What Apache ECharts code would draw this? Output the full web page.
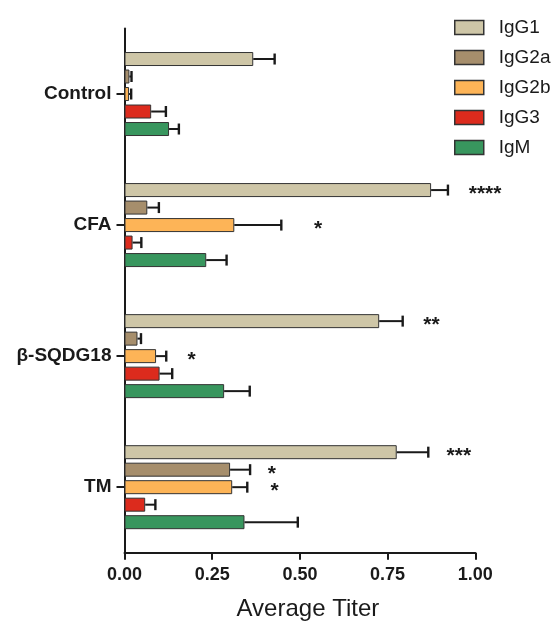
<!DOCTYPE html>
<html><head><meta charset="utf-8">
<script src="https://cdn.jsdelivr.net/npm/echarts@6/dist/echarts.min.js"></script>
<style>html,body{margin:0;padding:0;background:#fff}#c{width:554px;height:627px}</style>
</head><body><div id="c"></div>
<script>
const categories = ['Control', 'CFA', 'β-SQDG18', 'TM'];
const seriesNames = ['IgG1', 'IgG2a', 'IgG2b', 'IgG3', 'IgM'];
const IgG1 = [0.367, 0.874, 0.726, 0.776];
const IgG1Err = [0.061, 0.048, 0.067, 0.090];
const IgG2a = [0.014, 0.065, 0.037, 0.301];
const IgG2aErr = [0.006, 0.033, 0.010, 0.057];
const IgG2b = [0.013, 0.313, 0.090, 0.307];
const IgG2bErr = [0.006, 0.134, 0.029, 0.043];
const IgG3 = [0.076, 0.023, 0.100, 0.059];
const IgG3Err = [0.042, 0.025, 0.036, 0.029];
const IgM = [0.127, 0.233, 0.284, 0.342];
const IgMErr = [0.028, 0.058, 0.073, 0.152];
const xTicks = [0, 0.25, 0.5, 0.75, 1.0];
// significance marks: category index, series index, x position, text
const sigCat = [1, 1, 2, 2, 3, 3, 3];
const sigSeries = [0, 2, 0, 2, 0, 1, 2];
const sigX = [1.028, 0.552, 0.875, 0.191, 0.953, 0.420, 0.428];
const sigText = ['****', '*', '**', '*', '***', '*', '*'];

const values = [IgG1, IgG2a, IgG2b, IgG3, IgM];
const errs = [IgG1Err, IgG2aErr, IgG2bErr, IgG3Err, IgMErr];
const colors = ['#CEC6A7', '#A68E6C', '#FDB457', '#DC2B1D', '#38965E'];
const BAR_W = 14, PITCH = 17.5;

const series = [];
seriesNames.forEach((n, s) => {
  series.push({
    name: n, type: 'bar', data: values[s],
    barWidth: BAR_W, barGap: '25%',
    itemStyle: { color: colors[s], borderColor: '#333', borderWidth: 1 },
    z: 2
  });
});
seriesNames.forEach((n, s) => {
  series.push({
    type: 'custom', silent: true, z: 3,
    data: values[s].map((v, i) => [v, i, v + errs[s][i]]),
    encode: { x: [0, 2], y: 1 },
    renderItem: function (params, api) {
      const p0 = api.coord([api.value(0), api.value(1)]);
      const p1 = api.coord([api.value(2), api.value(1)]);
      const y = p0[1] + (s - 2) * PITCH;
      const h = 5.5;
      return {
        type: 'group', children: [
          { type: 'line', shape: { x1: p0[0], y1: y, x2: p1[0], y2: y }, style: { stroke: '#1a1a1a', lineWidth: 2 } },
          { type: 'line', shape: { x1: p1[0], y1: y - h, x2: p1[0], y2: y + h }, style: { stroke: '#1a1a1a', lineWidth: 2.4 } }
        ]
      };
    }
  });
});
series.push({
  type: 'custom', silent: true, z: 4,
  data: sigX.map((x, k) => [x, sigCat[k], sigSeries[k]]),
  encode: { x: 0, y: 1 },
  renderItem: function (params, api) {
    const p = api.coord([api.value(0), api.value(1)]);
    const y = p[1] + (api.value(2) - 2) * PITCH + 4.5;
    return {
      type: 'text',
      style: { x: p[0], y: y, text: sigText[params.dataIndex], fill: '#1a1a1a',
        font: 'bold 21px "Liberation Sans", Arial, sans-serif', align: 'center', verticalAlign: 'middle' }
    };
  }
});

const chart = echarts.init(document.getElementById('c'), null, { renderer: 'canvas' });
chart.setOption({
  animation: false,
  backgroundColor: '#fff',
  textStyle: { fontFamily: '"Liberation Sans", Arial, sans-serif' },
  legend: {
    data: seriesNames, orient: 'vertical', left: 449, top: 13,
    itemWidth: 29, itemHeight: 14, itemGap: 11, icon: 'rect',
    itemStyle: { borderColor: '#333', borderWidth: 1.5 },
    textStyle: { fontSize: 19, color: '#1a1a1a', padding: [0, 0, 0, 10] }
  },
  grid: { left: 124.5, right: 78.7, top: 28.5, height: 524.2, containLabel: false },
  xAxis: {
    type: 'value', min: 0, max: 1, interval: 0.25,
    name: 'Average Titer', nameLocation: 'middle', nameGap: 45,
    nameTextStyle: { fontSize: 24, color: '#1a1a1a', padding: [0, 0, 0, 16] },
    axisLine: { show: true, lineStyle: { color: '#1a1a1a', width: 2 } },
    axisTick: { show: true, length: 7, lineStyle: { color: '#1a1a1a', width: 2 } },
    axisLabel: { fontSize: 18, fontWeight: 'bold', color: '#1a1a1a', margin: 13,
      formatter: v => xTicks.indexOf(v) >= 0 ? v.toFixed(2) : '' },
    splitLine: { show: false }
  },
  yAxis: {
    type: 'category', data: categories, inverse: true,
    axisLine: { show: true, lineStyle: { color: '#1a1a1a', width: 2 } },
    axisTick: { show: true, alignWithLabel: true, length: 8, lineStyle: { color: '#1a1a1a', width: 2 } },
    axisLabel: { fontSize: 19, fontWeight: 'bold', color: '#1a1a1a', margin: 13 }
  },
  series: series
});
</script>
</body></html>
